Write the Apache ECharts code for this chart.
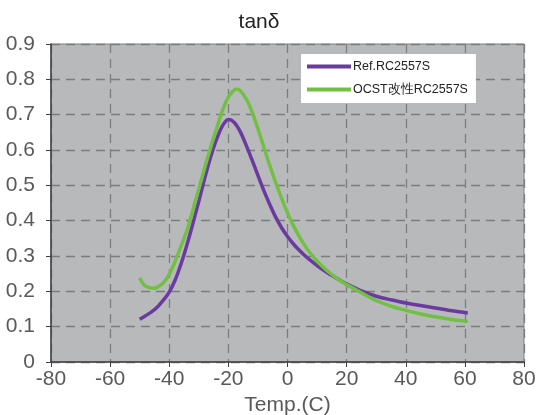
<!DOCTYPE html>
<html>
<head>
<meta charset="utf-8">
<script src="https://cdn.jsdelivr.net/npm/echarts@6/dist/echarts.min.js"></script>
<style>
  html, body { margin: 0; padding: 0; background: #ffffff; }
  #chart { width: 539px; height: 415px; }
</style>
</head>
<body>
<div id="chart"></div>
<script>
// tanδ vs temperature for two compounds
const seriesNames = ['Ref.RC2557S', 'OCST改性RC2557S'];

const refTemp = [-50, -48, -46, -44, -42, -40, -38, -36, -34, -32, -30, -28, -26, -24, -22, -20,
  -18, -16, -14, -12, -10, -8, -6, -4, -2, 0, 2, 4, 6, 8, 10, 12, 14, 16, 18, 20,
  25, 30, 35, 40, 45, 50, 55, 60, 61];
const refTanD = [0.121, 0.131, 0.142, 0.156, 0.175, 0.198, 0.232, 0.278, 0.332, 0.392, 0.455, 0.52,
  0.58, 0.63, 0.668, 0.686, 0.678, 0.652, 0.614, 0.572, 0.528, 0.485, 0.446, 0.41, 0.38, 0.355,
  0.334, 0.316, 0.3, 0.286, 0.273, 0.261, 0.25, 0.24, 0.23, 0.221, 0.201, 0.186, 0.176, 0.167,
  0.16, 0.153, 0.146, 0.14, 0.139];

const ocstTemp = [-50, -48.5, -47, -45.5, -44, -42, -40, -38, -36, -34, -32, -30, -28, -26, -24,
  -22, -20, -18, -17, -16, -14, -12, -10, -8, -6, -4, -2, 0, 2, 4, 6, 8, 10, 12, 14, 16, 18, 20,
  25, 30, 35, 40, 45, 50, 55, 61];
const ocstTanD = [0.238, 0.218, 0.211, 0.209, 0.212, 0.224, 0.248, 0.285, 0.328, 0.373, 0.43, 0.49,
  0.55, 0.607, 0.66, 0.712, 0.75, 0.77, 0.772, 0.768, 0.745, 0.708, 0.66, 0.608, 0.556, 0.508,
  0.463, 0.422, 0.386, 0.355, 0.328, 0.305, 0.286, 0.269, 0.254, 0.241, 0.229, 0.219, 0.196,
  0.174, 0.158, 0.146, 0.136, 0.128, 0.121, 0.115];

const xTicks = { min: -80, max: 80, step: 20 };
const yTicks = { min: 0, max: 0.9, step: 0.1 };

const pair = (xs, ys) => xs.map((x, i) => [x, ys[i]]);

const labelFont = 'Liberation Sans, Arial, sans-serif';
const chart = echarts.init(document.getElementById('chart'), null, { renderer: 'canvas' });

chart.setOption({
  animation: false,
  title: {
    text: 'tanδ',
    left: 254, textAlign: 'center', top: 7,
    textStyle: { fontFamily: labelFont, fontSize: 21, fontWeight: 'normal', color: '#222222' }
  },
  legend: {
    orient: 'vertical',
    left: 301, top: 54,
    backgroundColor: '#ffffff',
    padding: [6, 8, 7, 6],
    itemGap: 10,
    itemWidth: 44, itemHeight: 4,
    icon: 'rect',
    textStyle: { fontFamily: labelFont, fontSize: 12.5, color: '#222222', padding: [0, 0, 0, -3] },
    data: seriesNames
  },
  grid: {
    left: 51, right: 15, top: 44, bottom: 53,
    outerBoundsMode: 'none',
    containLabel: false,
    show: true,
    backgroundColor: '#b8b9bb',
    borderColor: '#7f7f7f',
    borderWidth: 1
  },
  xAxis: {
    type: 'value',
    min: xTicks.min, max: xTicks.max, interval: xTicks.step,
    name: 'Temp.(C)',
    nameLocation: 'middle',
    nameGap: 26,
    nameTextStyle: { fontFamily: labelFont, fontSize: 21, color: '#595959' },
    axisLine: { show: true, onZero: false, lineStyle: { color: '#404040', width: 1.5 } },
    axisTick: { show: true, length: 5, lineStyle: { color: '#404040' } },
    axisLabel: { fontFamily: labelFont, fontSize: 21, color: '#595959', margin: 7 },
    splitLine: { show: true, lineStyle: { color: '#7d7d7d', width: 1.3, type: [9, 6] } }
  },
  yAxis: {
    type: 'value',
    min: yTicks.min, max: yTicks.max, interval: yTicks.step,
    axisLine: { show: true, onZero: false, lineStyle: { color: '#404040', width: 1.5 } },
    axisTick: { show: true, length: 5, lineStyle: { color: '#404040' } },
    axisLabel: {
      fontFamily: labelFont, fontSize: 21, color: '#595959', margin: 16,
      formatter: v => (Math.round(v * 10) / 10).toString()
    },
    splitLine: { show: true, lineStyle: { color: '#7d7d7d', width: 1.3, type: [9, 6] } }
  },
  series: [
    {
      name: seriesNames[0],
      type: 'line',
      smooth: 0.3,
      showSymbol: false,
      data: pair(refTemp, refTanD),
      itemStyle: { color: '#6b3aa0' },
      lineStyle: { color: '#6b3aa0', width: 3.5 }
    },
    {
      name: seriesNames[1],
      type: 'line',
      smooth: 0.3,
      showSymbol: false,
      data: pair(ocstTemp, ocstTanD),
      itemStyle: { color: '#72c043' },
      lineStyle: { color: '#72c043', width: 3.5 }
    }
  ]
});
</script>
</body>
</html>
